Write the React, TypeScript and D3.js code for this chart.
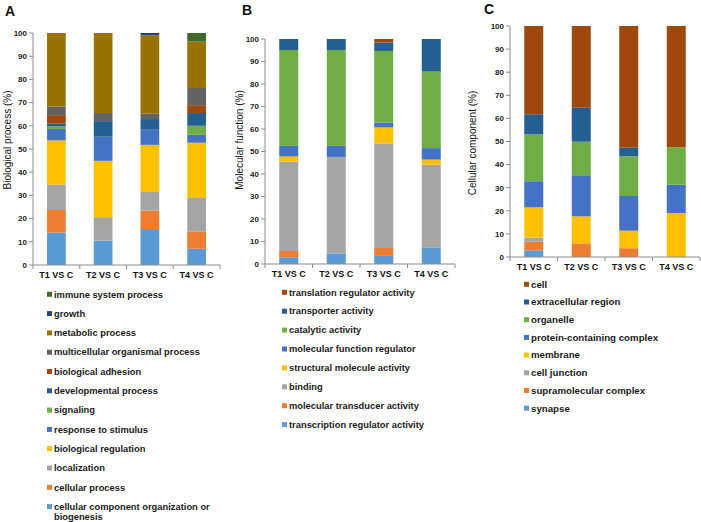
import React from "react";
import * as d3 from "d3";

const categories = ["T1 VS C", "T2 VS C", "T3 VS C", "T4 VS C"];

// Panel A – Biological process (stack order bottom → top)
const bpNames = [
  "cellular component organization or biogenesis",
  "cellular process",
  "localization",
  "biological regulation",
  "response to stimulus",
  "signaling",
  "developmental process",
  "biological adhesion",
  "multicellular organismal process",
  "metabolic process",
  "growth",
  "immune system process",
];
const bpColors = ["#5B9BD5", "#ED7D31", "#A5A5A5", "#FFC000", "#4472C4", "#70AD47", "#255E91", "#9E480E", "#636363", "#997300", "#264478", "#43682B"];
const bpValues = [
  [14, 10.5, 15.5, 7],
  [9.7, 0, 8, 7.5],
  [11, 10.1, 8, 14.4],
  [19, 24.3, 20.3, 23.8],
  [4.9, 10.4, 6.5, 3.4],
  [1.1, 0, 0, 3.9],
  [1.2, 6.7, 4.6, 5.5],
  [3.7, 0, 0, 3.4],
  [3.7, 3.5, 2.3, 7.4],
  [31.7, 34.5, 33.8, 20],
  [0, 0, 1.0, 0],
  [0, 0, 0, 3.7],
];

// Panel B – Molecular function
const mfNames = [
  "transcription regulator activity",
  "molecular transducer activity",
  "binding",
  "structural molecule activity",
  "molecular function regulator",
  "catalytic activity",
  "transporter activity",
  "translation regulator activity",
];
const mfColors = ["#5B9BD5", "#ED7D31", "#A5A5A5", "#FFC000", "#4472C4", "#70AD47", "#255E91", "#9E480E"];
const mfValues = [
  [3, 4.7, 3.6, 7.4],
  [2.8, 0, 3.5, 0],
  [39.7, 42.9, 46.5, 36.7],
  [2.3, 0, 7.1, 2.3],
  [4.7, 4.9, 2.1, 5.1],
  [42.6, 42.6, 31.9, 34],
  [4.9, 4.9, 3.7, 14.5],
  [0, 0, 1.6, 0],
];

// Panel C – Cellular component
const ccNames = [
  "synapse",
  "supramolecular complex",
  "cell junction",
  "membrane",
  "protein-containing complex",
  "organelle",
  "extracellular region",
  "cell",
];
const ccColors = ["#5B9BD5", "#ED7D31", "#A5A5A5", "#FFC000", "#4472C4", "#70AD47", "#255E91", "#9E480E"];
const ccValues = [
  [2.9, 0, 0, 0],
  [3.7, 5.9, 3.8, 0],
  [1.8, 0, 0, 0],
  [13.1, 11.7, 7.6, 19],
  [11.3, 17.8, 15, 12.3],
  [20.3, 14.5, 17.2, 16.2],
  [8.7, 14.7, 3.7, 0],
  [38.2, 35.4, 52.7, 52.5],
];

const yTicks = [0, 10, 20, 30, 40, 50, 60, 70, 80, 90, 100];

const FONT = "'Liberation Sans', Arial, sans-serif";
const AXIS = "#8c8c8c";

type PanelProps = {
  letter: string;
  letterX: number;
  letterY: number;
  yLabel: string;
  yLabelX: number;
  yLabelY: number;
  x0: number;
  x1: number;
  yTop: number;
  yBot: number;
  names: string[];
  colors: string[];
  values: number[][];
  legX: number;
  legY: number;
  legStep: number;
  legFont: number;
  wrap?: { [k: string]: string[] };
};

function Panel(p: PanelProps) {
  const x = d3.scaleBand<string>().domain(categories).range([p.x0, p.x1]).paddingInner(0.6).paddingOuter(0.3);
  const y = d3.scaleLinear().domain([0, 100]).range([p.yBot, p.yTop]);
  const rows = categories.map((c, ci) => {
    const r: any = { cat: c };
    p.names.forEach((n, si) => (r[n] = p.values[si][ci]));
    return r;
  });
  const stacked = d3.stack<any>().keys(p.names)(rows);
  const step = x.step();
  const bw = x.bandwidth();
  const boundaries = [
    ...categories.map((c) => (x(c) as number) + bw / 2 - step / 2),
    (x(categories[categories.length - 1]) as number) + bw / 2 + step / 2,
  ];
  const legendOrder = p.names.map((n, i) => ({ n, c: p.colors[i] })).reverse();
  return (
    <g>
      <text x={p.letterX} y={p.letterY} fontFamily={FONT} fontWeight="bold" fontSize={14} fill="#111">
        {p.letter}
      </text>
      <text
        transform={`translate(${p.yLabelX},${p.yLabelY}) rotate(-90)`}
        textAnchor="middle"
        fontFamily={FONT}
        fontSize={10}
        fill="#111"
      >
        {p.yLabel}
      </text>
      {stacked.map((s, si) => (
        <g key={si} fill={p.colors[si]}>
          {s.map((d, ci) =>
            d[1] - d[0] > 0 ? (
              <rect
                key={ci}
                x={x(categories[ci]) as number}
                width={bw}
                y={y(d[1])}
                height={y(d[0]) - y(d[1])}
              />
            ) : null
          )}
        </g>
      ))}
      <line x1={p.x0} x2={p.x0} y1={y(100)} y2={y(0)} stroke={AXIS} strokeWidth={1} />
      {yTicks.map((t) => (
        <g key={t}>
          <line x1={p.x0 - 4} x2={p.x0} y1={y(t)} y2={y(t)} stroke={AXIS} />
          <text
            x={p.x0 - 6}
            y={y(t)}
            dy="0.35em"
            textAnchor="end"
            fontFamily={FONT}
            fontWeight="bold"
            fontSize={8}
            fill="#222"
          >
            {t}
          </text>
        </g>
      ))}
      <line x1={p.x0} x2={boundaries[boundaries.length - 1]} y1={y(0)} y2={y(0)} stroke={AXIS} />
      {boundaries.map((b, i) => (
        <line key={i} x1={b} x2={b} y1={y(0)} y2={y(0) + 4} stroke={AXIS} />
      ))}
      {categories.map((c) => (
        <text
          key={c}
          x={(x(c) as number) + bw / 2}
          y={y(0) + 13}
          textAnchor="middle"
          fontFamily={FONT}
          fontWeight="bold"
          fontSize={9}
          fill="#111"
        >
          {c}
        </text>
      ))}
      {legendOrder.map((it, i) => {
        const lines = (p.wrap && p.wrap[it.n]) || [it.n];
        const cy = p.legY + i * p.legStep;
        return (
          <g key={it.n}>
            <rect x={p.legX} y={cy - 2.5} width={5} height={5} fill={it.c} />
            {lines.map((l, li) => (
              <text
                key={li}
                x={p.legX + 7}
                y={cy + li * 10.5}
                dy="0.35em"
                fontFamily={FONT}
                fontWeight="bold"
                fontSize={p.legFont}
                fill="#1a1a1a"
              >
                {l}
              </text>
            ))}
          </g>
        );
      })}
    </g>
  );
}

export default function App() {
  return (
    <svg
      width={701}
      height={522}
      style={{ position: "absolute", left: 0, top: 0, background: "#fff" }}
    >
      <rect width={701} height={522} fill="#fff" />
      <Panel
        letter="A"
        letterX={5}
        letterY={16}
        yLabel="Biological process (%)"
        yLabelX={11}
        yLabelY={140}
        x0={33}
        x1={220}
        yTop={33}
        yBot={265}
        names={bpNames}
        colors={bpColors}
        values={bpValues}
        legX={47}
        legY={294.3}
        legStep={19.3}
        legFont={9.35}
        wrap={{
          "cellular component organization or biogenesis": ["cellular component organization or", "biogenesis"],
        }}
      />
      <Panel
        letter="B"
        letterX={242}
        letterY={15}
        yLabel="Molecular function (%)"
        yLabelX={243}
        yLabelY={140}
        x0={265}
        x1={455}
        yTop={39}
        yBot={264}
        names={mfNames}
        colors={mfColors}
        values={mfValues}
        legX={282}
        legY={292.3}
        legStep={18.9}
        legFont={9.35}
      />
      <Panel
        letter="C"
        letterX={484}
        letterY={14}
        yLabel="Cellular component (%)"
        yLabelX={476}
        yLabelY={143}
        x0={510}
        x1={700}
        yTop={26}
        yBot={257}
        names={ccNames}
        colors={ccColors}
        values={ccValues}
        legX={524}
        legY={284.3}
        legStep={17.7}
        legFont={9.7}
      />
    </svg>
  );
}
